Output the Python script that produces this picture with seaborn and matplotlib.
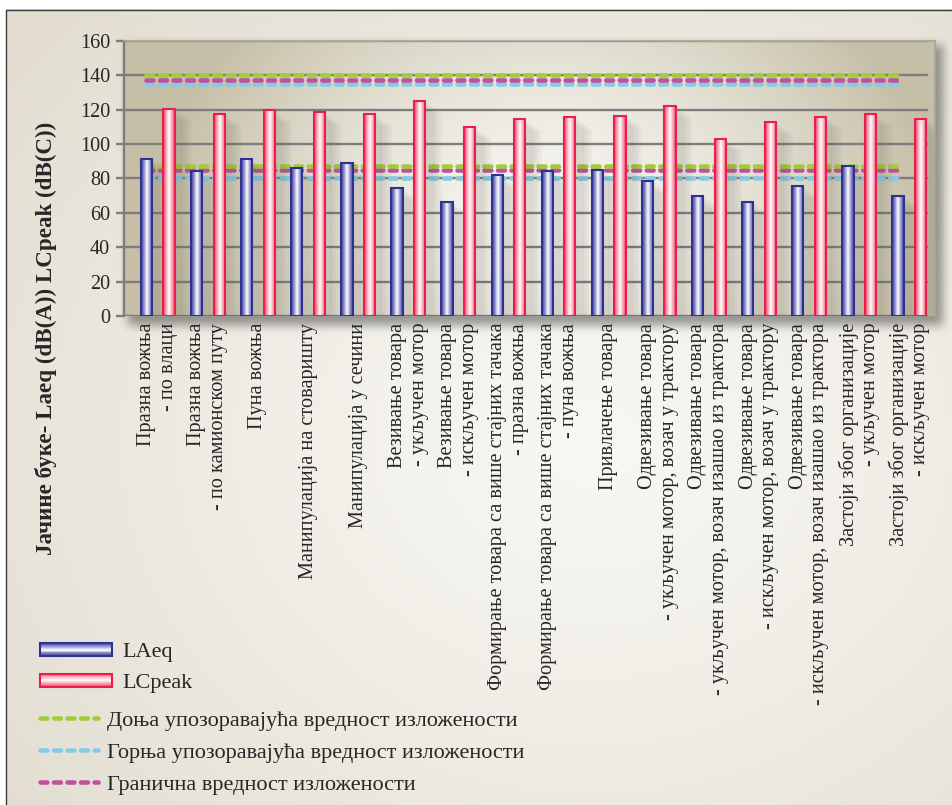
import numpy as np
import pandas as pd
import matplotlib
matplotlib.use("Agg")
import matplotlib.pyplot as plt
import seaborn as sns
from matplotlib.colors import LinearSegmentedColormap, to_rgb
from matplotlib.patches import Rectangle, Patch
from matplotlib.lines import Line2D
from matplotlib.legend_handler import HandlerBase
import matplotlib.patheffects as pe

# ---- data -------------------------------------------------------------
activities = [
    "Празна вожња\n- по влаци",
    "Празна вожња\n- по камионском путу",
    "Пуна вожња",
    "Манипулација на стоваришту",
    "Манипулација у сечини",
    "Везивање товара\n- укључен мотор",
    "Везивање товара\n- искључен мотор",
    "Формирање товара са више стајних тачака\n- празна вожња",
    "Формирање товара са више стајних тачака\n- пуна вожња",
    "Привлачење товара",
    "Одвезивање товара\n- укључен мотор, возач у трактору",
    "Одвезивање товара\n- укључен мотор, возач изашао из трактора",
    "Одвезивање товара\n- искључен мотор, возач у трактору",
    "Одвезивање товара\n- искључен мотор, возач изашао из трактора",
    "Застоји због организације\n- укључен мотор",
    "Застоји због организације\n- искључен мотор",
]
laeq = [91.5, 84, 91, 86, 89, 74.5, 66, 82, 84, 85, 78.5, 69.5, 66, 75.5, 87, 69.5]
lcpeak = [120.5, 117.5, 119.5, 118.5, 117.5, 125, 110, 114.5, 115.5, 116.5,
          122, 103, 112.5, 115.5, 117.5, 114.5]
series_names = ["LAeq", "LCpeak"]

# exposure reference levels: (dB(A), dB(C))
level_names = ["Доња упозоравајућа вредност изложености",
               "Горња упозоравајућа вредност изложености",
               "Гранична вредност изложености"]
donja = [87, 140]
gornja = [80, 135]
granicna = [85, 137]

y_ticks = [0, 20, 40, 60, 80, 100, 120, 140, 160]
y_label = "Јачине буке- Laeq (dB(A)) LCpeak (dB(C))"

# ---- style ------------------------------------------------------------
sns.set_theme(style="white")
plt.rcParams["font.family"] = ["Liberation Serif", "DejaVu Serif"]

W, H = 953, 805
fig = plt.figure(figsize=(W / 100, H / 100), dpi=100)

blue_edge, red_edge = "#2e3192", "#ec1d4b"
green_c, sky_c, plum_c = "#a2cd3a", "#84cbe6", "#c0529d"
bar_cmaps = {
    "LAeq": LinearSegmentedColormap.from_list(
        "laeq", ["#3a3d98", "#8e8fc9", "#ffffff", "#9a9bd0", "#3a3d98"]),
    "LCpeak": LinearSegmentedColormap.from_list(
        "lcpeak", ["#ef3f64", "#f7a3b4", "#ffffff", "#f7a8b8", "#ef3f64"]),
}
edges = {"LAeq": blue_edge, "LCpeak": red_edge}

ax_left, ax_right, ax_top, ax_bottom = 124, 935, 40.7, 316
tick_fs = 14.6
legend_fs = 16.0


def box_blur(a, r):
    k = 2 * r + 1
    p = np.pad(a, r, mode="edge")
    c = np.cumsum(np.cumsum(p, 0), 1)
    c = np.pad(c, ((1, 0), (1, 0)))
    return (c[k:, k:] - c[:-k, k:] - c[k:, :-k] + c[:-k, :-k]) / k ** 2


# ---- page background with soft frame shadow ---------------------------
yy, xx = np.mgrid[0:H, 0:W].astype(float)
d = np.sqrt(((xx / W - 0.62) / 0.8) ** 2 + ((yy / H - 0.55) / 0.8) ** 2)
t = np.clip(d, 0, 1)[..., None] ** 1.2
light = np.array(to_rgb("#f8f7f3"))
beige = np.array(to_rgb("#e2dccf"))
page = light * (1 - t) + beige * t
mask = np.zeros((H, W))
mask[int(ax_top) + 6:int(ax_bottom) + 10, ax_left + 4:ax_right + 8] = 1
sh = mask
for _ in range(3):
    sh = box_blur(sh, 4)
page = page * (1 - 0.38 * sh[..., None])
page[:10, :, :] = 1
page[:, :6, :] = 1
bg = fig.add_axes([0, 0, 1, 1], zorder=-10)
bg.imshow(page, extent=[0, 1, 0, 1], aspect="auto", interpolation="bilinear")
bg.set_axis_off()
fig.patches.append(Rectangle((6 / W, -0.01), 1.0, (H - 10) / H + 0.01,
                             transform=fig.transFigure, fill=False,
                             edgecolor="#3a3a3a", lw=1.0))

# ---- main axes ---------------------------------------------------------
ax = fig.add_axes([ax_left / W, (H - ax_bottom) / H,
                   (ax_right - ax_left) / W, (ax_bottom - ax_top) / H])
ax.set_facecolor("none")

df = pd.DataFrame({
    "activity": activities * 2,
    "level": laeq + lcpeak,
    "measure": [series_names[0]] * len(activities) + [series_names[1]] * len(activities),
})
sns.barplot(data=df, x="activity", y="level", hue="measure",
            order=activities, hue_order=series_names,
            palette=["#3a3d98", "#ef3f64"], width=0.9, gap=0.5,
            legend=False, ax=ax, linewidth=0)

n = len(activities)
xlim = (-0.674, n - 1 + 0.513)
ylim = (0, 160)

# plot area shading
gx, gy = np.meshgrid(np.linspace(0, 1, 400), np.linspace(0, 1, 200))
dd = np.sqrt(((gx - 0.52) / 0.48) ** 2 + ((gy - 0.35) / 1.1) ** 2)
tt = np.clip(dd, 0, 1)[..., None] ** 1.6
area = np.array(to_rgb("#f6f5f0")) * (1 - tt) + np.array(to_rgb("#c6bfa7")) * tt
ax.imshow(area, extent=[xlim[0], xlim[1], ylim[1], ylim[0]], aspect="auto",
          zorder=0, interpolation="bilinear")

# gridlines
for v in y_ticks:
    ax.axhline(v, xmin=0, xmax=(927 - ax_left) / (ax_right - ax_left),
               color="#7d7d7d", lw=1.7, zorder=1)

# reference levels (drawn below the bars)
x_start, x_end = -0.225, n - 1 - 0.12
for vals, col in [(gornja, sky_c), (granicna, plum_c), (donja, green_c)]:
    for v in vals:
        ax.plot([x_start, x_end], [v, v], color=col, lw=3.3,
                dashes=(1.5, 1.45), dash_capstyle="round", zorder=2)

# gradient fill for the bars, with a soft drop shadow
shadow_fx = [pe.SimplePatchShadow(offset=(k, -k * 0.7), shadow_rgbFace="#5a5648",
                                  alpha=0.045) for k in (2, 4, 6, 8, 10, 12)] + [pe.Normal()]
grad = np.linspace(0, 1, 64)[None, :]
palette_rgb = {series_names[0]: to_rgb("#3a3d98"), series_names[1]: to_rgb("#ef3f64")}
bars = [p for p in ax.patches if isinstance(p, Rectangle)]
for p in bars:
    fc = p.get_facecolor()[:3]
    name = min(palette_rgb, key=lambda k: sum((a - b) ** 2 for a, b in zip(fc, palette_rgb[k])))
    x0, y0 = p.get_x(), p.get_y()
    w, h = p.get_width(), p.get_height()
    p.set_facecolor("none")
    p.set_edgecolor("none")
    p.set_zorder(2.5)
    p.set_path_effects(shadow_fx)
    im = ax.imshow(grad, cmap=bar_cmaps[name], extent=[x0, x0 + w, y0, y0 + h],
                   aspect="auto", zorder=2.6, interpolation="bilinear")
    im.set_clip_path(p)
    ax.add_patch(Rectangle((x0, y0), w, h, fill=False, edgecolor=edges[name],
                           lw=1.5, zorder=2.7))

ax.set_xlim(*xlim)
ax.set_ylim(*ylim)

# axes styling
ax.spines["bottom"].set_visible(False)
ax.spines["left"].set_color("#7d7d7d")
ax.spines["left"].set_linewidth(1.7)
ax.spines["left"].set_zorder(1)
for s in ["top", "right"]:
    ax.spines[s].set_color("#aaa595")
    ax.spines[s].set_linewidth(1.2)

ax.set_yticks(y_ticks)
ax.set_yticklabels([str(v) for v in y_ticks], fontsize=tick_fs)
ax.tick_params(axis="y", direction="out", length=6, width=1.7, color="#7d7d7d",
               pad=4, left=True)
ax.set_xticks(range(n))
ax.set_xticklabels(activities, rotation=90, ha="center", va="top",
                   multialignment="right", fontsize=tick_fs)
ax.tick_params(axis="x", length=0, pad=5)
ax.set_xlabel("")
ax.set_ylabel("")

fig.text(46 / W, (H - 338) / H, y_label, rotation=90, fontsize=16.6,
         fontweight="bold", ha="center", va="center")


# ---- legends -----------------------------------------------------------
class GradientBarHandler(HandlerBase):
    def __init__(self, cmap, edge):
        super().__init__()
        self.cmap = cmap
        self.edge = edge

    def create_artists(self, legend, orig_handle, xdescent, ydescent,
                       width, height, fontsize, trans):
        arts = []
        k = 14
        for i in range(k):
            arts.append(Rectangle((-xdescent, -ydescent + height * i / k), width,
                                  height / k + 0.2, facecolor=self.cmap((i + 0.5) / k),
                                  edgecolor="none", transform=trans))
        arts.append(Rectangle((-xdescent, -ydescent), width, height, fill=False,
                              edgecolor=self.edge, lw=1.5, transform=trans))
        return arts


h_laeq, h_lcpeak = Patch(), Patch()
fig.legend(handles=[h_laeq, h_lcpeak], labels=series_names,
           handler_map={h_laeq: GradientBarHandler(bar_cmaps["LAeq"], blue_edge),
                        h_lcpeak: GradientBarHandler(bar_cmaps["LCpeak"], red_edge)},
           loc="upper left", bbox_to_anchor=(40 / W, (H - 643) / H),
           frameon=False, fontsize=legend_fs, handlelength=3.25, handleheight=0.54,
           handletextpad=0.45, labelspacing=0.5, borderpad=0, borderaxespad=0)

line_handles = [Line2D([], [], color=c, lw=3.3, dashes=(1.5, 1.45),
                       dash_capstyle="round") for c in (green_c, sky_c, plum_c)]
fig.legend(handles=line_handles, labels=level_names, loc="upper left",
           bbox_to_anchor=(40 / W, (H - 710) / H), frameon=False, fontsize=legend_fs,
           handlelength=2.6, handletextpad=0.4, labelspacing=0.53,
           borderpad=0, borderaxespad=0)

fig.savefig("out.png", dpi=100)
